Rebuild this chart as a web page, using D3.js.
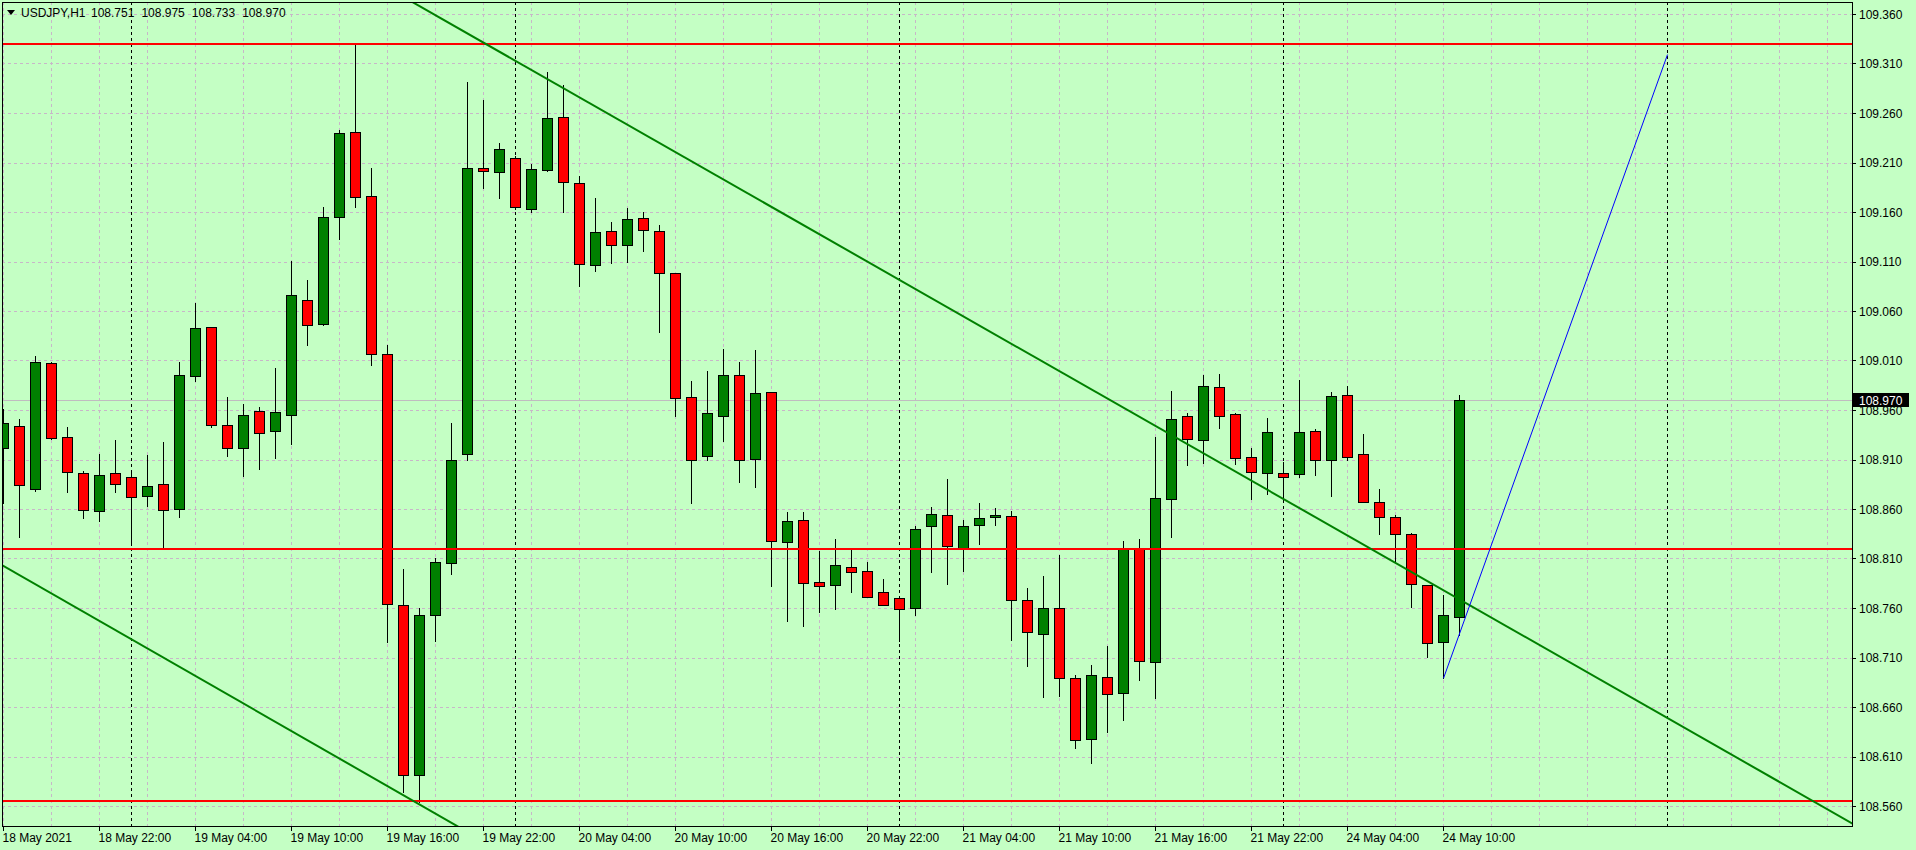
<!DOCTYPE html>
<html><head><meta charset="utf-8">
<script src="https://cdn.jsdelivr.net/npm/d3@7"></script>
<style>
html,body{margin:0;padding:0;background:#c4ffc4;overflow:hidden;}
svg{display:block;}
text{font-family:"Liberation Sans",Arial,sans-serif;font-size:12px;fill:#000;}
</style></head><body>
<svg id="chart" width="1916" height="850"></svg>
<script>
// ---------------- DATA ----------------
const symbol = "USDJPY,H1";
// H1 candles, 18 May 2021 16:00 .. 24 May 2021 11:00 (index 0..91)
const open = [108.922,108.944,108.880,109.007,108.933,108.896,108.858,108.896,108.892,108.873,108.885,108.860,108.994,109.044,108.945,108.922,108.959,108.939,108.955,109.071,109.047,109.155,109.241,109.176,109.017,108.763,108.591,108.753,108.805,108.916,109.204,109.200,109.215,109.163,109.202,109.256,109.189,109.106,109.141,109.127,109.154,109.141,109.098,108.973,108.914,108.954,108.995,108.911,108.978,108.827,108.849,108.786,108.783,108.801,108.797,108.776,108.770,108.760,108.843,108.854,108.821,108.844,108.852,108.853,108.768,108.734,108.760,108.689,108.628,108.690,108.674,108.820,108.705,108.870,108.954,108.930,108.983,108.956,108.913,108.896,108.896,108.895,108.939,108.910,108.975,108.916,108.867,108.852,108.835,108.783,108.726,108.751];
const high = [108.961,108.951,109.015,109.008,108.943,108.898,108.916,108.930,108.899,108.915,108.928,109.008,109.068,109.044,108.973,108.966,108.963,109.002,109.111,109.091,109.165,109.243,109.331,109.204,109.026,108.799,108.760,108.810,108.947,109.291,109.273,109.230,109.217,109.208,109.301,109.288,109.196,109.174,109.150,109.164,109.160,109.147,109.098,108.989,108.999,109.022,109.008,109.021,108.978,108.857,108.857,108.818,108.830,108.819,108.806,108.789,108.770,108.843,108.862,108.890,108.849,108.866,108.861,108.858,108.780,108.792,108.814,108.692,108.702,108.722,108.828,108.830,108.933,108.979,108.957,108.995,108.996,108.957,108.922,108.952,108.907,108.990,108.941,108.978,108.984,108.936,108.880,108.854,108.836,108.783,108.773,108.975];
const low = [108.866,108.832,108.878,108.931,108.877,108.851,108.848,108.877,108.824,108.863,108.822,108.852,108.989,108.943,108.914,108.893,108.900,108.912,108.926,109.026,109.046,109.133,109.165,109.005,108.726,108.574,108.564,108.727,108.794,108.909,109.184,109.174,109.163,109.160,109.201,109.160,109.085,109.100,109.108,109.110,109.121,109.039,108.954,108.866,108.910,108.929,108.887,108.882,108.782,108.747,108.742,108.756,108.759,108.776,108.771,108.763,108.727,108.753,108.796,108.784,108.797,108.825,108.844,108.728,108.701,108.670,108.671,108.619,108.603,108.635,108.647,108.687,108.669,108.832,108.904,108.906,108.942,108.905,108.870,108.875,108.871,108.892,108.894,108.873,108.910,108.867,108.835,108.807,108.761,108.711,108.689,108.733];
const close = [108.947,108.884,109.008,108.932,108.897,108.859,108.894,108.885,108.872,108.883,108.859,108.995,109.043,108.945,108.922,108.955,108.937,108.958,109.076,109.046,109.155,109.240,109.175,109.017,108.764,108.591,108.753,108.806,108.910,109.204,109.201,109.224,109.165,109.203,109.255,109.190,109.107,109.140,109.127,109.153,109.142,109.098,108.972,108.910,108.957,108.995,108.910,108.977,108.828,108.848,108.785,108.782,108.803,108.796,108.771,108.763,108.759,108.840,108.855,108.823,108.843,108.851,108.854,108.768,108.736,108.760,108.689,108.627,108.692,108.673,108.821,108.706,108.871,108.951,108.931,108.984,108.954,108.912,108.897,108.938,108.892,108.938,108.910,108.974,108.913,108.867,108.852,108.835,108.784,108.725,108.753,108.970];

const priceTicks = ["109.360","109.310","109.260","109.210","109.160","109.110","109.060","109.010","108.960","108.910","108.860","108.810","108.760","108.710","108.660","108.610","108.560"];
const timeTickIdx = [0,6,12,18,24,30,36,42,48,54,60,66,72,78,84,90];
const timeTickLabels = ["18 May 2021","18 May 22:00","19 May 04:00","19 May 10:00","19 May 16:00","19 May 22:00","20 May 04:00","20 May 10:00","20 May 16:00","20 May 22:00","21 May 04:00","21 May 10:00","21 May 16:00","21 May 22:00","24 May 04:00","24 May 10:00"];
const daySeparatorIdx = [8,32,56,80,104];
const redLevels = [109.330, 108.820, 108.565];
const trendUpper = [[40,109.2389],[115,108.5474]];
const trendLower = [[0,108.8025],[28,108.543]];
const blueSegment = [[90,108.689],[104,109.319]];
const bid = 108.970;

// ---------------- LAYOUT ----------------
const W = 1916, H = 850;
const P = {left:2, top:2, right:1852, bottom:826};
const bg = "#c4ffc4", gridC = "#c8b6c8", bull = "#008000", bear = "#ff0000";

const x = d3.scaleLinear().domain([0,1]).range([3.5,19.5]);
const y = d3.scaleLinear().domain([108.56,109.36]).range([806,14]);
const cr = v => Math.round(v) + 0.5;

const svg = d3.select("#chart");
svg.append("rect").attr("width",W).attr("height",H).attr("fill",bg);

const defs = svg.append("defs");
defs.append("clipPath").attr("id","plotclip").append("rect")
  .attr("x",P.left+0.5).attr("y",P.top+0.5).attr("width",P.right-P.left-0.5).attr("height",P.bottom-P.top-0.5);

const plot = svg.append("g").attr("clip-path","url(#plotclip)");

// grid
const kMax = x.invert(P.right);
plot.append("g").selectAll("line").data(d3.range(0, kMax, 3)).join("line")
  .attr("x1",d=>cr(x(d)-0.5)).attr("x2",d=>cr(x(d)-0.5))
  .attr("y1",P.top).attr("y2",P.bottom)
  .attr("stroke",gridC).attr("stroke-width",1).attr("stroke-dasharray","3,3");
plot.append("g").selectAll("line").data(priceTicks).join("line")
  .attr("x1",P.left).attr("x2",P.right)
  .attr("y1",d=>cr(y(+d))).attr("y2",d=>cr(y(+d)))
  .attr("stroke",gridC).attr("stroke-width",1).attr("stroke-dasharray","3,3");

// day separators
plot.append("g").selectAll("line").data(daySeparatorIdx).join("line")
  .attr("x1",d=>cr(x(d)-0.5)).attr("x2",d=>cr(x(d)-0.5))
  .attr("y1",P.top).attr("y2",P.bottom)
  .attr("stroke","#000").attr("stroke-width",1).attr("stroke-dasharray","3,3");

// bid line
plot.append("line").attr("x1",P.left).attr("x2",P.right)
  .attr("y1",cr(y(bid))).attr("y2",cr(y(bid)))
  .attr("stroke","#c0bcc0").attr("stroke-width",1);

// candles
const candles = open.map((o,i)=>({i,o,h:high[i],l:low[i],c:close[i]}));
const cg = plot.append("g");
cg.selectAll("line").data(candles).join("line")
  .attr("x1",d=>cr(x(d.i)-0.5)).attr("x2",d=>cr(x(d.i)-0.5))
  .attr("y1",d=>Math.round(y(d.h))).attr("y2",d=>Math.round(y(d.l))+1)
  .attr("stroke","#000").attr("stroke-width",1);
cg.selectAll("rect").data(candles).join("rect")
  .attr("x",d=>Math.round(x(d.i))-5.5)
  .attr("width",10)
  .attr("y",d=>Math.round(y(Math.max(d.o,d.c)))+0.5)
  .attr("height",d=>Math.max(1,Math.round(y(Math.min(d.o,d.c)))-Math.round(y(Math.max(d.o,d.c)))))
  .attr("fill",d=>d.c>=d.o?bull:bear)
  .attr("stroke","#000").attr("stroke-width",1);

// horizontal red levels
plot.append("g").selectAll("line").data(redLevels).join("line")
  .attr("x1",P.left).attr("x2",P.right)
  .attr("y1",d=>Math.round(y(d))).attr("y2",d=>Math.round(y(d)))
  .attr("stroke","#ff0000").attr("stroke-width",2);

// trend lines (extended rays)
function ext(seg, k0, k1){
  const [[a,pa],[b,pb]] = seg; const s=(pb-pa)/(b-a);
  return [[k0, pa+s*(k0-a)],[k1, pa+s*(k1-a)]];
}
const line = d3.line().x(d=>x(d[0])).y(d=>y(d[1]));
[trendUpper, trendLower].forEach(seg=>{
  plot.append("path").attr("d",line(ext(seg,-5,125)))
    .attr("fill","none").attr("stroke","#008000").attr("stroke-width",2);
});
plot.append("path").attr("d",line(blueSegment))
  .attr("fill","none").attr("stroke","#0000ff").attr("stroke-width",1);

// frame
svg.append("rect").attr("x",P.left+0.5).attr("y",P.top+0.5)
  .attr("width",P.right-P.left).attr("height",P.bottom-P.top)
  .attr("fill","none").attr("stroke","#000").attr("stroke-width",1);

// price axis
const pa = svg.append("g");
pa.selectAll("line").data(priceTicks).join("line")
  .attr("x1",P.right).attr("x2",P.right+4)
  .attr("y1",d=>cr(y(+d))).attr("y2",d=>cr(y(+d)))
  .attr("stroke","#000");
pa.selectAll("text").data(priceTicks).join("text")
  .attr("x",P.right+7).attr("y",d=>y(+d)+4.5).text(d=>d);
// bid label
const by = y(bid);
svg.append("rect").attr("x",P.right+1).attr("y",Math.round(by)-7).attr("width",56).attr("height",14).attr("fill","#000");
svg.append("text").attr("x",P.right+7).attr("y",by+4.5).attr("fill","#fff").style("fill","#fff").text(bid.toFixed(3));

// time axis
const ta = svg.append("g");
ta.selectAll("line").data(timeTickIdx).join("line")
  .attr("x1",d=>cr(x(d)-0.5)).attr("x2",d=>cr(x(d)-0.5))
  .attr("y1",P.bottom).attr("y2",P.bottom+5).attr("stroke","#000");
ta.selectAll("text").data(timeTickIdx).join("text")
  .attr("x",d=>x(d)-1).attr("y",842).text((d,i)=>timeTickLabels[i]);

// header
const last = candles[candles.length-1];
svg.append("path").attr("d","M7,10L15,10L11,15Z").attr("fill","#000");
svg.append("text").attr("x",21).attr("y",17).text(symbol);
[last.o,last.h,last.l,last.c].forEach((v,i)=>{
  svg.append("text").attr("x",91+i*50.4).attr("y",17).text(v.toFixed(3));
});
</script>
</body></html>
